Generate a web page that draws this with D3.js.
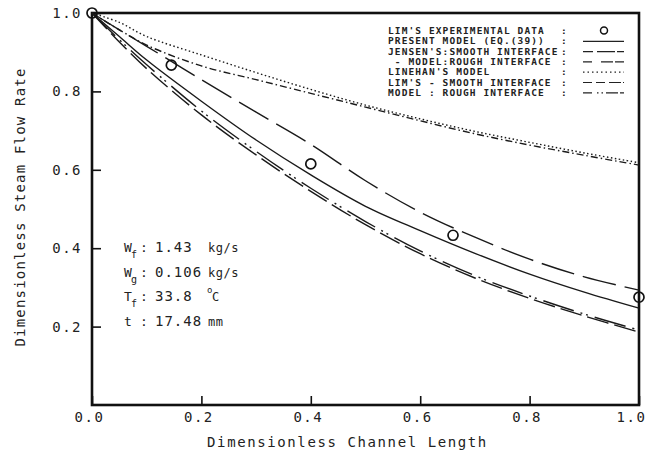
<!DOCTYPE html>
<html>
<head>
<meta charset="utf-8">
<script src="https://cdn.jsdelivr.net/npm/d3@7"></script>
<style>
  body { margin: 0; background: #fff; }
  svg { display: block; }
  text { font-family: "DejaVu Sans Mono", monospace; fill: #222; }
</style>
</head>
<body>
<svg id="chart" width="649" height="452"></svg>
<script>
// values
const xs = [0, 0.05, 0.1, 0.2, 0.3, 0.4, 0.5, 0.6, 0.7, 0.8, 0.9, 1.0]
const presentModel = [1, 0.94, 0.88, 0.775, 0.676, 0.587, 0.507, 0.445, 0.387, 0.334, 0.288, 0.247]
const limSmooth = [1, 0.957, 0.915, 0.83, 0.747, 0.665, 0.572, 0.492, 0.428, 0.372, 0.327, 0.293]
const linehan = [1, 0.976, 0.94, 0.893, 0.848, 0.805, 0.765, 0.73, 0.698, 0.67, 0.643, 0.618]
const jensenSmooth = [1, 0.957, 0.918, 0.865, 0.83, 0.795, 0.76, 0.725, 0.692, 0.663, 0.637, 0.612]
const jensenRough = [1, 0.932, 0.868, 0.75, 0.647, 0.553, 0.468, 0.393, 0.33, 0.278, 0.232, 0.191]
const limRough = [1, 0.926, 0.858, 0.74, 0.638, 0.545, 0.46, 0.386, 0.324, 0.272, 0.227, 0.186]

const expX = [0, 0.145, 0.4, 0.66, 1.0]
const expY = [1.0, 0.867, 0.615, 0.433, 0.275]

const xTicks = [0, 0.2, 0.4, 0.6, 0.8, 1.0]
const yTicks = [0.2, 0.4, 0.6, 0.8, 1.0]

const legendLabels = [
  "LIM'S EXPERIMENTAL DATA",
  'PRESENT MODEL (EQ.(39))',
  "JENSEN'S:SMOOTH INTERFACE",
  ' - MODEL:ROUGH INTERFACE',
  "LINEHAN'S MODEL",
  "LIM'S - SMOOTH INTERFACE",
  'MODEL : ROUGH INTERFACE',
]

window.addEventListener('load', makeChart)
function makeChart() {
  const svg = d3.select('#chart')
  const left = 92, right = 639, top = 13, bottom = 405

  const scX = d3.scaleLinear().domain([0, 1]).range([left, right])
  const scY = d3.scaleLinear().domain([0, 1]).range([bottom, top])

  // axes, ticks point inward
  const ax = svg.append('g').attr('transform', `translate(0,${bottom})`)
    .call(d3.axisBottom(scX).tickValues(xTicks).tickFormat(d3.format('.1f'))
      .tickSizeInner(-9).tickSizeOuter(0).tickPadding(7))
  ax.selectAll('text').attr('font-size', 14).attr('letter-spacing', 1.5)
    .attr('dx', (d) => (d === 1 ? -8 : -3))

  const ay = svg.append('g').attr('transform', `translate(${left},0)`)
    .call(d3.axisLeft(scY).tickValues(yTicks).tickFormat(d3.format('.1f'))
      .tickSizeInner(-9).tickSizeOuter(0).tickPadding(10))
  ay.selectAll('text').attr('font-size', 14).attr('letter-spacing', 1.5)

  svg.selectAll('.domain').remove()
  svg.selectAll('.tick line').attr('stroke', '#111').attr('stroke-width', 1.6)
  svg.selectAll('.tick text').attr('fill', '#222').attr('font-family', '"DejaVu Sans Mono", monospace')

  svg.append('rect')
    .attr('x', left).attr('y', top)
    .attr('width', right - left).attr('height', bottom - top)
    .attr('fill', 'none').attr('stroke', '#111').attr('stroke-width', 2.6)

  // axis titles
  svg.append('text')
    .attr('x', (left + right) / 2 - 18).attr('y', 447)
    .attr('text-anchor', 'middle').attr('font-size', 14).attr('letter-spacing', 1.6)
    .text('Dimensionless Channel Length')
  svg.append('text')
    .attr('transform', 'translate(25,207) rotate(-90)')
    .attr('text-anchor', 'middle').attr('font-size', 14).attr('letter-spacing', 1.2)
    .text('Dimensionless Steam Flow Rate')

  // curves
  const series = [
    { ys: linehan, dash: '1.5,2.5' },
    { ys: jensenSmooth, dash: '7,3,1.5,3' },
    { ys: limSmooth, dash: '34,9' },
    { ys: presentModel, dash: null },
    { ys: jensenRough, dash: '32,7,2,4,2,7' },
    { ys: limRough, dash: '22,6' },
  ]
  const line = d3.line()
    .x((d) => scX(d[0]))
    .y((d) => scY(d[1]))
    .curve(d3.curveCatmullRom.alpha(0.5))

  svg.selectAll('path.curve')
    .data(series)
    .enter()
    .append('path')
    .attr('class', 'curve')
    .attr('d', (s) => line(xs.map((x, i) => [x, s.ys[i]])))
    .attr('fill', 'none')
    .attr('stroke', '#1a1a1a')
    .attr('stroke-width', 1.4)
    .attr('stroke-dasharray', (s) => s.dash)

  // experimental points
  svg.selectAll('circle.exp')
    .data(expX)
    .enter()
    .append('circle')
    .attr('class', 'exp')
    .attr('cx', (d) => scX(d))
    .attr('cy', (d, i) => scY(expY[i]))
    .attr('r', 5)
    .attr('fill', 'none')
    .attr('stroke', '#111')
    .attr('stroke-width', 1.7)

  // legend
  const legX = 388, legY0 = 34, legDy = 10.3
  const lg = svg.append('g')
  lg.selectAll('text.lab')
    .data(legendLabels)
    .enter()
    .append('text')
    .attr('class', 'lab')
    .attr('x', legX)
    .attr('y', (d, i) => legY0 + i * legDy)
    .attr('font-size', 9.5)
    .attr('font-weight', 'bold')
    .attr('letter-spacing', 1.1)
    .style('white-space', 'pre')
    .text((d) => d)
  lg.selectAll('text.colon')
    .data(legendLabels)
    .enter()
    .append('text')
    .attr('class', 'colon')
    .attr('x', 561)
    .attr('y', (d, i) => legY0 + i * legDy)
    .attr('font-size', 9.5)
    .attr('font-weight', 'bold')
    .text(':')

  lg.append('circle')
    .attr('cx', 604).attr('cy', legY0 - 3.5).attr('r', 3.5)
    .attr('fill', 'none').attr('stroke', '#111').attr('stroke-width', 1.5)

  const legDash = [null, '10,4,18,2', '9,9,12,2', '1.5,3', '9,4,9,4,12,2', '9,5,1.5,3,1.5,3,12,2']
  lg.selectAll('line.samp')
    .data(legDash)
    .enter()
    .append('line')
    .attr('class', 'samp')
    .attr('x1', 583).attr('x2', 624)
    .attr('y1', (d, i) => legY0 + (i + 1) * legDy - 3)
    .attr('y2', (d, i) => legY0 + (i + 1) * legDy - 3)
    .attr('stroke', '#222')
    .attr('stroke-width', 1.2)
    .attr('stroke-dasharray', (d) => d)

  // run conditions
  const cond = [
    { name: 'W', sub: 'f', val: '1.43', unit: 'kg/s' },
    { name: 'W', sub: 'g', val: '0.106', unit: 'kg/s' },
    { name: 'T', sub: 'f', val: '33.8', unit: 'C' },
    { name: 't', sub: '', val: '17.48', unit: 'mm' },
  ]
  const cg = svg.append('g')
  cond.forEach((c, i) => {
    const y = 252 + i * 24.5
    cg.append('text').attr('x', 124).attr('y', y).attr('font-size', 13).text(c.name)
    cg.append('text').attr('x', 131).attr('y', y + 6).attr('font-size', 10).text(c.sub)
    cg.append('text').attr('x', 140).attr('y', y).attr('font-size', 13).text(':')
    cg.append('text').attr('x', 155).attr('y', y).attr('font-size', 14).attr('letter-spacing', 1).text(c.val)
    const unitX = c.unit === 'C' ? 212 : 208
    cg.append('text').attr('x', unitX).attr('y', y).attr('font-size', 12).attr('letter-spacing', 0.5).text(c.unit)
    if (c.unit === 'C') {
      cg.append('text').attr('x', 207).attr('y', y - 8).attr('font-size', 9).text('o')
    }
  })
}
</script>
</body>
</html>
